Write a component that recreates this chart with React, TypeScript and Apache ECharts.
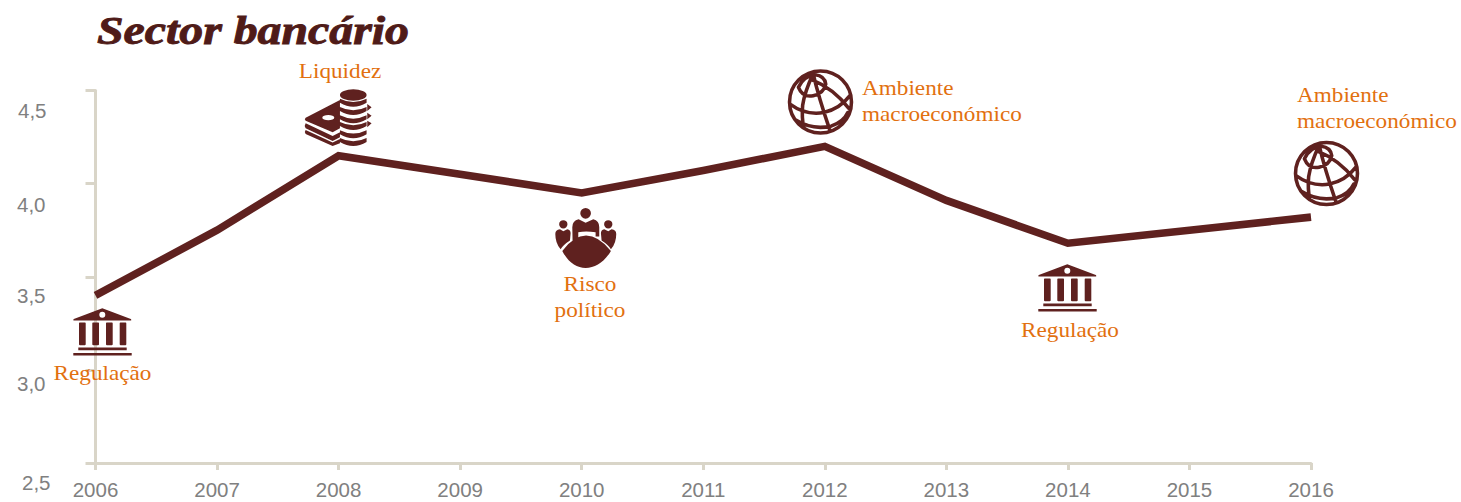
import React, { useEffect, useRef } from "react";
import * as echarts from "echarts";

const years = ["2006", "2007", "2008", "2009", "2010", "2011", "2012", "2013", "2014", "2015", "2016"];
const bankingIndex = [3.4, 3.75, 4.15, 4.05, 3.95, 4.07, 4.2, 3.91, 3.68, 3.75, 3.82];
const yTicks = ["2,5", "3,0", "3,5", "4,0", "4,5"];

const TITLE = "Sector bancário";
const REGULATION = "Regulação";
const LIQUIDITY = "Liquidez";
const POLITICAL_RISK = "Risco\npolítico";
const MACRO = "Ambiente\nmacroeconómico";

const WINE = "#5f211f";
const TITLE_WINE = "#4f1b18";
const ORANGE = "#e2700f";
const GREY = "#808080";
const AXIS = "#d9d5c8";
const SERIF = "'Liberation Serif', serif";
const SANS = "'Liberation Sans', Arial, sans-serif";

// Icon outlines. Each path is closed and filled, holes wind the other way.
const bankPath = [
  "M0 0L28.5 10.6Q30 12.3 27.5 12.3H-27.5Q-30 12.3 -28.5 10.6Z",
  "M0 3.4a3 3 0 1 0 0 6a3 3 0 1 0 0 -6Z",
  "M-23.3 15Q-23.3 14.3 -22.6 14.3H-17.3Q-16.6 14.3 -16.6 15V36Q-16.6 37 -17.6 37H-22.3Q-23.3 37 -23.3 36Z",
  "M-10 15Q-10 14.3 -9.3 14.3H-4Q-3.3 14.3 -3.3 15V36Q-3.3 37 -4.3 37H-9Q-10 37 -10 36Z",
  "M3.7 15Q3.7 14.3 4.4 14.3H9.7Q10.4 14.3 10.4 15V36Q10.4 37 9.4 37H4.7Q3.7 37 3.7 36Z",
  "M17.4 15Q17.4 14.3 18.1 14.3H23.3Q24 14.3 24 15V36Q24 37 23 37H18.4Q17.4 37 17.4 36Z",
  "M-24 39.3H24.4V42H-24Z",
  "M-29 44.7H29.4V47.3H-29Z",
].join("");

const globePath = [
  "M-29.5 0A29.5 29.5 0 1 1 29.5 0A29.5 29.5 0 1 1 -29.5 0Z",
  "M-21 -14Q-17 -4 -7 -6Q3 -8 5 -17Q4 -25 -5 -26Q-16 -25 -21 -14Z",
  "M-29 2Q-14 13 3 10Q18 7 28 -6",
  "M-24 17Q-8 27 10 23Q22 19 26 10",
  "M-7 -27Q-15 -10 -17 3Q-18 15 -16 24",
  "M-7 -27Q-2 -5 9 27",
  "M-8 -21Q12 -13 27 6",
].join("");

const peoplePath = [
  "M151 70a16 16 0 1 1 32 0a16 16 0 1 1 -32 0Z",
  "M87.5 103a12.5 12.5 0 1 1 25 0a12.5 12.5 0 1 1 -25 0Z",
  "M222.5 103a12.5 12.5 0 1 1 25 0a12.5 12.5 0 1 1 -25 0Z",
  "M127 112Q127 92 146 88L167 98L190 88Q208 92 208 112L208 140L197 140L197 127Q167 122 145 127L145 162L128 160Z",
  "M97 183Q167 91 243 183C222 218 195 234 167 234C140 234 115 218 97 183Z",
  "M76 132Q76 120 90 118L100 124L112 118Q122 120 122 130L120 152Q100 165 92 178Q76 160 76 132Z",
  "M259 132Q259 120 245 118L235 124L223 118Q213 120 213 130L215 152Q235 165 243 178Q259 160 259 132Z",
].join("");

const coinBand = (b: number) =>
  `M150 ${b - 24}Q190 ${b - 4} 230 ${b - 24}V${b - 12}Q190 ${b + 12} 150 ${b - 12}Z`;

const moneyPath = [
  "M150 45a40 17 0 1 1 80 0a40 17 0 1 1 -80 0Z",
  coinBand(80),
  coinBand(105),
  coinBand(130),
  coinBand(150),
  coinBand(175),
  coinBand(198),
  "M47 113L150 60V145L128 157L47 122Q42 117 47 113Z",
  "M97 113a18 8 0 1 0 36 0a18 8 0 1 0 -36 0Z",
  "M232 72L245 82L232 93Z",
  "M232 98L245 107L232 118Z",
  "M232 122L245 130L232 142Z",
  "M47 130L128 168L150 157V172L128 183L47 145Q42 137 47 130Z",
  "M47 150L128 188L150 177V190L128 198L47 162Q42 156 47 150Z",
].join("");

echarts.graphic.registerShape("bankIcon", echarts.graphic.extendPath(bankPath, {}));
echarts.graphic.registerShape("globeIcon", echarts.graphic.extendPath(globePath, {}));
echarts.graphic.registerShape("peopleIcon", echarts.graphic.extendPath(peoplePath, {}));
echarts.graphic.registerShape("moneyIcon", echarts.graphic.extendPath(moneyPath, {}));

const caption = (text: string, x: number, y: number, align: string) => ({
  type: "text",
  x,
  y,
  z: 10,
  scaleX: 1.055,
  style: { text, fill: ORANGE, font: `22px ${SERIF}`, align, verticalAlign: "top", lineHeight: 26 },
});

const bank = (x: number, y: number) => ({ type: "bankIcon", x, y, z: 9, style: { fill: WINE } });
const globe = (x: number, y: number) => ({
  type: "globeIcon",
  x,
  y,
  z: 9,
  scaleX: 1.05,
  scaleY: 1.05,
  style: { fill: "none", stroke: WINE, lineWidth: 3.4, lineJoin: "round", lineCap: "round" },
});

// Per-label padding shifts each value label below its tick.
const yLabelRich = {
  t0: { padding: [38, 0, 0, 0] },
  t1: { padding: [28, 5, 0, 0] },
  t2: { padding: [38, 5, 0, 0] },
  t3: { padding: [42, 5, 0, 0] },
  t4: { padding: [40, 4, 0, 0] },
};

export default function App() {
  const ref = useRef<HTMLDivElement>(null);

  useEffect(() => {
    const chart = echarts.init(ref.current!, undefined, { renderer: "svg" });
    chart.setOption({
      animation: false,
      backgroundColor: "#ffffff",
      grid: { left: 95.5, right: 150, top: 90.5, bottom: 39 },
      xAxis: {
        type: "category",
        data: years,
        boundaryGap: false,
        axisLine: { lineStyle: { color: AXIS, width: 3 } },
        axisTick: { length: 7, lineStyle: { color: AXIS, width: 3 } },
        axisLabel: {
          color: GREY,
          fontFamily: SANS,
          fontSize: 20.5,
          margin: 16,
          interval: 0,
        },
      },
      yAxis: {
        type: "value",
        min: 2.5,
        max: 4.5,
        interval: 0.5,
        splitLine: { show: false },
        axisLine: { show: true, lineStyle: { color: AXIS, width: 3 } },
        axisTick: { show: true, length: 10, lineStyle: { color: AXIS, width: 3 } },
        axisLabel: {
          color: GREY,
          fontFamily: SANS,
          fontSize: 20.5,
          margin: 45,
          formatter: (v: number) => {
            const i = Math.round((v - 2.5) / 0.5);
            return `{t${i}|${yTicks[i]}}`;
          },
          rich: yLabelRich,
        },
      },
      series: [
        {
          type: "line",
          data: bankingIndex,
          showSymbol: false,
          symbol: "none",
          clip: false,
          lineStyle: { color: WINE, width: 7.6, cap: "butt", join: "miter" },
        },
      ],
      graphic: [
        {
          type: "text",
          x: 97,
          y: 11,
          scaleX: 1.195,
          style: {
            text: TITLE,
            fill: TITLE_WINE,
            stroke: TITLE_WINE,
            lineWidth: 0.9,
            font: `italic bold 40px ${SERIF}`,
            verticalAlign: "top",
          },
        },
        caption(LIQUIDITY, 340, 58, "center"),
        caption(REGULATION, 102.5, 360, "center"),
        caption(POLITICAL_RISK, 590, 271, "center"),
        caption(REGULATION, 1070, 317, "center"),
        caption(MACRO, 862, 75, "left"),
        caption(MACRO, 1297, 82, "left"),
        bank(102.3, 308.3),
        bank(1067.3, 264.3),
        globe(820.5, 102),
        globe(1326.5, 173.5),
        { type: "peopleIcon", x: 530, y: 190, scaleX: 1 / 3, scaleY: 1 / 3, z: 9, style: { fill: WINE } },
        { type: "moneyIcon", x: 290, y: 80, scaleX: 1 / 3, scaleY: 1 / 3, z: 9, style: { fill: WINE } },
      ],
    });
    return () => chart.dispose();
  }, []);

  return <div ref={ref} style={{ position: "fixed", left: 0, top: 0, width: 1461, height: 502 }} />;
}
